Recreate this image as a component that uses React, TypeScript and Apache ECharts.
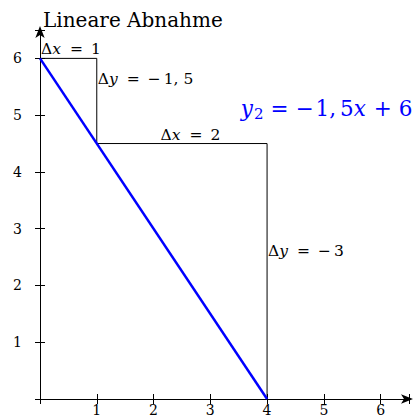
import React, { useEffect, useRef } from "react";
import * as echarts from "echarts";

const xTicks = [0, 1, 2, 3, 4, 5, 6];
const yTicks = [0, 1, 2, 3, 4, 5, 6];
const linePoints: [number, number][] = [[0, 6], [4, 0]];
const stepPoints: [number, number][] = [[0, 6], [1, 6], [1, 4.5], [4, 4.5], [4, 0]];
const titleText = "Lineare Abnahme";
const labelAnchors: { x: number; y: number; key: string; pos: string }[] = [
  { x: 0.0, y: 6, key: "dx1", pos: "insideBottomLeft" },
  { x: 1, y: 5.63, key: "dy15", pos: "right" },
  { x: 2.65, y: 4.5, key: "dx2", pos: "top" },
  { x: 4, y: 2.61, key: "dy3", pos: "right" },
  { x: 3.52, y: 5.12, key: "eq", pos: "right" },
];

const SERIF = "DejaVu Serif";

export default function App() {
  const ref = useRef<HTMLDivElement>(null);
  useEffect(() => {
    if (!ref.current) return;
    const chart = echarts.init(ref.current, null, { renderer: "svg" });
    const fs = 15.5;
    const bfs = 21.5;
    const rich = {
      n: { fontFamily: SERIF, fontSize: fs, color: "#000" },
      i: { fontFamily: SERIF, fontSize: fs, fontStyle: "italic", color: "#000", padding: [0, 1, 0, 0] },
      e: { fontFamily: SERIF, fontSize: fs, color: "#000", padding: [0, 8, 0, 8] },
      m: { fontFamily: SERIF, fontSize: fs, color: "#000", padding: [0, 3, 0, 0] },
      c: { fontFamily: SERIF, fontSize: fs, color: "#000", padding: [0, 5, 0, 0] },
      bn: { fontFamily: SERIF, fontSize: bfs, color: "#0000ff" },
      bi: { fontFamily: SERIF, fontSize: bfs, fontStyle: "italic", color: "#0000ff", padding: [0, 1, 0, 0] },
      be: { fontFamily: SERIF, fontSize: bfs, color: "#0000ff", padding: [0, 7, 0, 7] },
      bm: { fontFamily: SERIF, fontSize: bfs, color: "#0000ff", padding: [0, 2, 0, 0] },
      bc: { fontFamily: SERIF, fontSize: bfs, color: "#0000ff", padding: [0, 4, 0, 0] },
      bs: { fontFamily: SERIF, fontSize: 15, color: "#0000ff", verticalAlign: "bottom", padding: [11, 0, 0, 0] },
    };
    const texts: Record<string, string> = {
      dx1: "{n|Δ}{i|x}{e|=}{n|1}",
      dy15: "{n|Δ}{i|y}{e|=}{m|−}{c|1,}{n|5}",
      dx2: "{n|Δ}{i|x}{e|=}{n|2}",
      dy3: "{n|Δ}{i|y}{e|=}{m|−}{n|3}",
      eq: "{bi|y}{bs|2}{be|=}{bm|−}{bc|1,}{bn|5}{bi|x}{be|+}{bn|6}",
    };
    const axisCommon = {
      type: "value" as const,
      min: 0,
      max: 6.5,
      interval: 1,
      splitLine: { show: false },
    };
    chart.setOption({
      animation: false,
      textStyle: { fontFamily: SERIF },
      title: {
        text: titleText,
        left: 38,
        top: 5,
        textStyle: { fontFamily: SERIF, fontSize: 20, fontWeight: "normal", color: "#000" },
      },
      grid: { left: 40, right: 8, top: 30, bottom: 19 },
      xAxis: [
        {
          ...axisCommon,
          axisLine: { onZero: true, lineStyle: { color: "#000", width: 1 }, symbol: ["none", "arrow"], symbolSize: [7, 12], symbolOffset: [0, 4] },
          axisTick: { show: true, inside: false, length: 5, lineStyle: { color: "#000" } },
          axisLabel: {
            margin: 4,
            fontFamily: SERIF,
            fontSize: 14,
            color: "#000",
            formatter: (v: number) => (xTicks.includes(v) && v !== 0 ? String(v) : ""),
          },
        },
        {
          ...axisCommon,
          position: "bottom",
          axisLine: { show: false, onZero: true },
          axisTick: { show: true, inside: true, length: 5, lineStyle: { color: "#000" } },
          axisLabel: { show: false },
        },
      ],
      yAxis: [
        {
          ...axisCommon,
          axisLine: { onZero: true, lineStyle: { color: "#000", width: 1 }, symbol: ["none", "arrow"], symbolSize: [7, 12], symbolOffset: [0, 4] },
          axisTick: { show: true, inside: false, length: 5, lineStyle: { color: "#000" } },
          axisLabel: {
            margin: 18,
            fontFamily: SERIF,
            fontSize: 14,
            color: "#000",
            formatter: (v: number) => (yTicks.includes(v) && v !== 0 ? String(v) : ""),
          },
        },
        {
          ...axisCommon,
          position: "left",
          axisLine: { show: false, onZero: true },
          axisTick: { show: true, inside: true, length: 5, lineStyle: { color: "#000" } },
          axisLabel: { show: false },
        },
      ],
      series: [
        {
          type: "line",
          data: stepPoints,
          showSymbol: false,
          lineStyle: { color: "#000", width: 1 },
          z: 2,
        },
        {
          type: "line",
          data: linePoints,
          showSymbol: false,
          lineStyle: { color: "#0000ff", width: 2.5 },
          z: 3,
        },
        {
          type: "scatter",
          symbolSize: 0,
          z: 4,
          itemStyle: { opacity: 1 },
          data: labelAnchors.map((a) => ({
            value: [a.x, a.y],
            label: {
              show: true,
              position: a.pos,
              distance: 1,
              opacity: 1,
              fontFamily: SERIF,
              formatter: texts[a.key],
              rich,
            },
          })),
        },
      ],
    });
    return () => chart.dispose();
  }, []);
  return <div ref={ref} style={{ width: 417, height: 418, position: "absolute", left: 0, top: 0, background: "#fff" }} />;
}
